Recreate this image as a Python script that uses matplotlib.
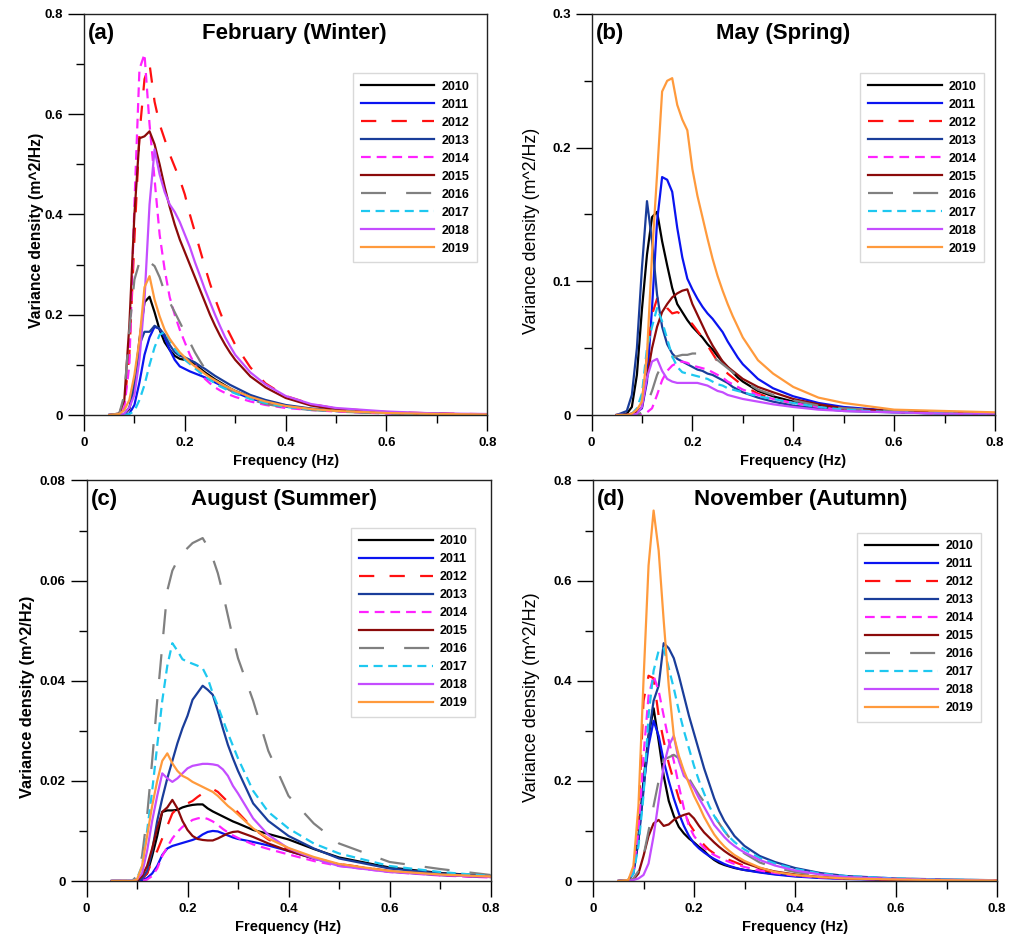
import matplotlib
matplotlib.use("Agg")
import matplotlib.pyplot as plt
from matplotlib.ticker import MultipleLocator, FuncFormatter

plt.rcParams['font.family'] = ['Liberation Sans', 'DejaVu Sans']
plt.rcParams['lines.scale_dashes'] = False

# ---------------- data ----------------
FREQ = [0.05, 0.07, 0.08, 0.09, 0.10, 0.11, 0.12, 0.13, 0.14, 0.15, 0.16, 0.17,
        0.18, 0.19, 0.20, 0.21, 0.22, 0.23, 0.24, 0.25, 0.26, 0.27, 0.28, 0.29,
        0.30, 0.33, 0.36, 0.40, 0.45, 0.50, 0.60, 0.70, 0.80]

YEARS = ['2010', '2011', '2012', '2013', '2014', '2015', '2016', '2017', '2018', '2019']

# February (Winter)
FEB = [
    [0, 0, 0.002, 0.012, 0.06, 0.15, 0.225, 0.236, 0.205, 0.17, 0.145, 0.13, 0.118, 0.112, 0.11, 0.108, 0.1, 0.093, 0.085, 0.078, 0.071, 0.065, 0.059, 0.053, 0.048, 0.036, 0.027, 0.018, 0.012, 0.008, 0.004, 0.002, 0.001],
    [0, 0, 0, 0.003, 0.02, 0.065, 0.12, 0.155, 0.176, 0.172, 0.155, 0.13, 0.11, 0.097, 0.092, 0.087, 0.083, 0.079, 0.075, 0.07, 0.065, 0.06, 0.055, 0.05, 0.045, 0.033, 0.025, 0.017, 0.011, 0.008, 0.004, 0.002, 0.001],
    [0, 0.001, 0.02, 0.12, 0.35, 0.56, 0.67, 0.70, 0.625, 0.58, 0.55, 0.52, 0.495, 0.47, 0.44, 0.40, 0.365, 0.33, 0.295, 0.262, 0.232, 0.205, 0.18, 0.16, 0.14, 0.095, 0.063, 0.038, 0.022, 0.013, 0.006, 0.003, 0.0015],
    [0, 0, 0.002, 0.015, 0.06, 0.14, 0.166, 0.166, 0.178, 0.172, 0.16, 0.14, 0.125, 0.118, 0.115, 0.11, 0.105, 0.098, 0.092, 0.085, 0.078, 0.072, 0.066, 0.06, 0.055, 0.04, 0.03, 0.02, 0.013, 0.009, 0.004, 0.002, 0.001],
    [0, 0.001, 0.015, 0.1, 0.42, 0.69, 0.72, 0.58, 0.47, 0.36, 0.29, 0.235, 0.2, 0.17, 0.145, 0.12, 0.1, 0.085, 0.072, 0.063, 0.055, 0.049, 0.044, 0.04, 0.036, 0.027, 0.02, 0.014, 0.01, 0.007, 0.003, 0.002, 0.001],
    [0, 0.003, 0.03, 0.18, 0.40, 0.552, 0.556, 0.566, 0.54, 0.50, 0.455, 0.415, 0.38, 0.35, 0.325, 0.30, 0.275, 0.25, 0.225, 0.20, 0.178, 0.158, 0.14, 0.124, 0.11, 0.077, 0.055, 0.034, 0.019, 0.011, 0.005, 0.0025, 0.001],
    [0, 0.003, 0.04, 0.17, 0.27, 0.305, 0.315, 0.305, 0.297, 0.275, 0.245, 0.225, 0.205, 0.185, 0.165, 0.145, 0.125, 0.108, 0.092, 0.08, 0.07, 0.062, 0.055, 0.049, 0.044, 0.031, 0.022, 0.015, 0.01, 0.007, 0.003, 0.002, 0.001],
    [0, 0, 0, 0.002, 0.008, 0.03, 0.06, 0.1, 0.135, 0.16, 0.166, 0.15, 0.132, 0.12, 0.11, 0.102, 0.093, 0.085, 0.077, 0.07, 0.063, 0.057, 0.052, 0.047, 0.043, 0.032, 0.024, 0.016, 0.011, 0.008, 0.004, 0.002, 0.001],
    [0, 0, 0.003, 0.015, 0.04, 0.11, 0.23, 0.42, 0.53, 0.48, 0.445, 0.42, 0.405, 0.385, 0.36, 0.335, 0.305, 0.278, 0.25, 0.225, 0.2, 0.177, 0.155, 0.137, 0.12, 0.085, 0.061, 0.038, 0.022, 0.014, 0.007, 0.003, 0.002],
    [0, 0.002, 0.01, 0.03, 0.08, 0.15, 0.255, 0.277, 0.23, 0.197, 0.17, 0.152, 0.138, 0.125, 0.115, 0.105, 0.097, 0.09, 0.082, 0.075, 0.069, 0.063, 0.058, 0.053, 0.048, 0.036, 0.027, 0.018, 0.012, 0.008, 0.004, 0.002, 0.001],
]

# May (Spring)
MAY = [
    [0, 0.001, 0.006, 0.03, 0.079, 0.12, 0.148, 0.152, 0.13, 0.112, 0.095, 0.083, 0.077, 0.071, 0.066, 0.062, 0.058, 0.053, 0.049, 0.044, 0.04, 0.036, 0.032, 0.028, 0.025, 0.018, 0.014, 0.01, 0.007, 0.005, 0.003, 0.002, 0.001],
    [0, 0, 0.001, 0.002, 0.005, 0.025, 0.08, 0.145, 0.178, 0.176, 0.167, 0.14, 0.118, 0.102, 0.094, 0.087, 0.081, 0.076, 0.072, 0.067, 0.062, 0.055, 0.049, 0.043, 0.038, 0.027, 0.02, 0.014, 0.009, 0.006, 0.003, 0.002, 0.001],
    [0, 0, 0.001, 0.003, 0.01, 0.045, 0.075, 0.087, 0.088, 0.08, 0.076, 0.077, 0.075, 0.072, 0.068, 0.063, 0.058, 0.052, 0.046, 0.04, 0.035, 0.031, 0.028, 0.025, 0.022, 0.016, 0.012, 0.009, 0.006, 0.004, 0.002, 0.0015, 0.001],
    [0, 0.003, 0.015, 0.05, 0.11, 0.16, 0.13, 0.09, 0.066, 0.053, 0.046, 0.042, 0.04, 0.038, 0.036, 0.034, 0.033, 0.031, 0.03, 0.028, 0.026, 0.024, 0.021, 0.019, 0.017, 0.013, 0.01, 0.007, 0.005, 0.003, 0.002, 0.001, 0.001],
    [0, 0, 0, 0, 0, 0.002, 0.005, 0.015, 0.026, 0.033, 0.037, 0.039, 0.04, 0.039, 0.037, 0.036, 0.035, 0.034, 0.032, 0.03, 0.028, 0.025, 0.023, 0.021, 0.019, 0.015, 0.012, 0.009, 0.006, 0.004, 0.002, 0.001, 0.001],
    [0, 0, 0.001, 0.002, 0.006, 0.028, 0.05, 0.066, 0.077, 0.083, 0.088, 0.091, 0.093, 0.094, 0.083, 0.075, 0.067, 0.059, 0.052, 0.046, 0.04, 0.036, 0.033, 0.03, 0.027, 0.021, 0.017, 0.012, 0.008, 0.005, 0.003, 0.002, 0.001],
    [0, 0, 0, 0, 0.002, 0.008, 0.018, 0.03, 0.038, 0.042, 0.043, 0.044, 0.045, 0.045, 0.046, 0.046, 0.046, 0.045, 0.043, 0.041, 0.038, 0.035, 0.032, 0.029, 0.026, 0.019, 0.015, 0.011, 0.007, 0.005, 0.003, 0.002, 0.001],
    [0, 0, 0.001, 0.005, 0.016, 0.05, 0.066, 0.08, 0.07, 0.057, 0.044, 0.036, 0.032, 0.031, 0.03, 0.029, 0.028, 0.027, 0.025, 0.023, 0.022, 0.02, 0.019, 0.018, 0.017, 0.014, 0.012, 0.009, 0.006, 0.004, 0.002, 0.001, 0.001],
    [0, 0, 0, 0.001, 0.006, 0.028, 0.04, 0.042, 0.033, 0.027, 0.025, 0.024, 0.024, 0.024, 0.024, 0.024, 0.023, 0.022, 0.02, 0.018, 0.017, 0.015, 0.014, 0.013, 0.012, 0.01, 0.008, 0.006, 0.004, 0.003, 0.002, 0.001, 0.001],
    [0, 0, 0.001, 0.004, 0.01, 0.045, 0.12, 0.18, 0.242, 0.25, 0.252, 0.232, 0.221, 0.213, 0.184, 0.164, 0.148, 0.132, 0.117, 0.104, 0.093, 0.083, 0.074, 0.066, 0.058, 0.041, 0.031, 0.021, 0.013, 0.009, 0.004, 0.003, 0.002],
]

# August (Summer)
AUG = [
    [0, 0, 0, 0, 0, 0.0005, 0.0015, 0.005, 0.009, 0.0138, 0.0141, 0.0141, 0.0142, 0.0147, 0.015, 0.0152, 0.0153, 0.0153, 0.0145, 0.0139, 0.0134, 0.0129, 0.0124, 0.0119, 0.0115, 0.0102, 0.0094, 0.0083, 0.0064, 0.0047, 0.0027, 0.0016, 0.001],
    [0, 0, 0, 0, 0, 0.0002, 0.0006, 0.0015, 0.003, 0.0052, 0.0065, 0.007, 0.0073, 0.0076, 0.0079, 0.0082, 0.0086, 0.0093, 0.0098, 0.01, 0.0099, 0.0095, 0.0091, 0.0087, 0.0084, 0.0078, 0.0071, 0.006, 0.0045, 0.0033, 0.0019, 0.0012, 0.0008],
    [0, 0, 0, 0, 0, 0.0005, 0.0015, 0.004, 0.006, 0.0085, 0.011, 0.0135, 0.0145, 0.015, 0.0155, 0.016, 0.0168, 0.0175, 0.018, 0.0184, 0.0178, 0.0168, 0.0158, 0.0147, 0.0137, 0.0105, 0.0083, 0.0063, 0.0046, 0.0034, 0.002, 0.0013, 0.0009],
    [0, 0, 0, 0, 0, 0.0005, 0.002, 0.006, 0.012, 0.0165, 0.0205, 0.024, 0.0275, 0.0305, 0.033, 0.0362, 0.0376, 0.039, 0.0382, 0.0372, 0.034, 0.0305, 0.0272, 0.0245, 0.022, 0.0155, 0.012, 0.009, 0.0065, 0.0045, 0.0025, 0.0015, 0.001],
    [0, 0, 0, 0, 0, 0, 0.0003, 0.001, 0.0025, 0.005, 0.0068, 0.0085, 0.0098, 0.0108, 0.0115, 0.0122, 0.0125, 0.0127, 0.0124, 0.0119, 0.0112, 0.0104, 0.0097, 0.0091, 0.0086, 0.0073, 0.0064, 0.0053, 0.004, 0.003, 0.0018, 0.0011, 0.0007],
    [0, 0, 0, 0, 0, 0.001, 0.003, 0.0065, 0.0105, 0.0138, 0.0147, 0.0162, 0.0145, 0.012, 0.0102, 0.009, 0.0084, 0.0082, 0.0081, 0.0081, 0.0085, 0.009, 0.0095, 0.0098, 0.0099, 0.0088, 0.0075, 0.006, 0.0045, 0.0033, 0.0019, 0.0012, 0.0008],
    [0, 0, 0, 0, 0.001, 0.005, 0.013, 0.024, 0.036, 0.047, 0.058, 0.062, 0.064, 0.0655, 0.0665, 0.0675, 0.068, 0.0685, 0.0668, 0.0645, 0.0615, 0.0575, 0.053, 0.0485, 0.0445, 0.036, 0.026, 0.017, 0.0115, 0.0075, 0.0038, 0.0024, 0.0012],
    [0, 0, 0, 0, 0.0005, 0.003, 0.01, 0.018, 0.027, 0.036, 0.043, 0.0475, 0.046, 0.0443, 0.0438, 0.0434, 0.043, 0.0425, 0.0405, 0.0375, 0.035, 0.0322, 0.0295, 0.027, 0.0245, 0.018, 0.0138, 0.0105, 0.0075, 0.0055, 0.003, 0.0018, 0.001],
    [0, 0, 0, 0, 0.0003, 0.0015, 0.006, 0.012, 0.017, 0.0215, 0.0205, 0.0198, 0.0205, 0.0215, 0.0225, 0.023, 0.0232, 0.0234, 0.0234, 0.0233, 0.0231, 0.0223, 0.021, 0.019, 0.0175, 0.0125, 0.0092, 0.0065, 0.0045, 0.003, 0.0018, 0.0012, 0.0008],
    [0, 0, 0, 0, 0.0003, 0.003, 0.009, 0.015, 0.02, 0.024, 0.0255, 0.0235, 0.022, 0.021, 0.0205, 0.0198, 0.0193, 0.0188, 0.0183, 0.0178, 0.017, 0.016, 0.015, 0.0142, 0.0133, 0.0105, 0.0085, 0.0066, 0.0048, 0.0034, 0.002, 0.0013, 0.0009],
]

# November (Autumn)
NOV = [
    [0, 0.002, 0.02, 0.09, 0.2, 0.29, 0.345, 0.28, 0.21, 0.16, 0.13, 0.108, 0.095, 0.085, 0.077, 0.068, 0.06, 0.05, 0.042, 0.036, 0.032, 0.029, 0.026, 0.024, 0.022, 0.018, 0.014, 0.01, 0.007, 0.005, 0.0025, 0.0015, 0.001],
    [0, 0.001, 0.015, 0.08, 0.19, 0.27, 0.32, 0.29, 0.24, 0.2, 0.165, 0.135, 0.11, 0.09, 0.075, 0.065, 0.057, 0.05, 0.044, 0.039, 0.034, 0.03, 0.027, 0.024, 0.022, 0.017, 0.013, 0.009, 0.006, 0.004, 0.002, 0.0012, 0.0008],
    [0, 0.001, 0.02, 0.12, 0.36, 0.41, 0.405, 0.33, 0.28, 0.235, 0.2, 0.165, 0.14, 0.115, 0.1, 0.085, 0.072, 0.062, 0.055, 0.05, 0.046, 0.042, 0.038, 0.034, 0.03, 0.023, 0.017, 0.012, 0.008, 0.005, 0.0025, 0.0015, 0.001],
    [0, 0.002, 0.02, 0.08, 0.18, 0.29, 0.36, 0.39, 0.475, 0.465, 0.445, 0.41, 0.37, 0.33, 0.295, 0.26, 0.225, 0.195, 0.165, 0.14, 0.12, 0.105, 0.09, 0.08, 0.07, 0.05, 0.038, 0.026, 0.016, 0.01, 0.005, 0.003, 0.0015],
    [0, 0.001, 0.02, 0.1, 0.25, 0.37, 0.41, 0.38, 0.33, 0.28, 0.24, 0.19, 0.145, 0.11, 0.09, 0.077, 0.066, 0.058, 0.052, 0.047, 0.042, 0.038, 0.034, 0.031, 0.028, 0.021, 0.016, 0.011, 0.007, 0.0045, 0.0025, 0.0015, 0.001],
    [0, 0, 0.003, 0.015, 0.05, 0.09, 0.115, 0.122, 0.11, 0.113, 0.122, 0.128, 0.132, 0.135, 0.125, 0.11, 0.097, 0.087, 0.077, 0.068, 0.06, 0.053, 0.047, 0.041, 0.036, 0.026, 0.019, 0.013, 0.008, 0.005, 0.0025, 0.0015, 0.001],
    [0, 0, 0.005, 0.02, 0.05, 0.1, 0.15, 0.2, 0.243, 0.247, 0.252, 0.245, 0.225, 0.205, 0.188, 0.172, 0.158, 0.143, 0.13, 0.115, 0.1, 0.087, 0.075, 0.064, 0.055, 0.037, 0.027, 0.018, 0.011, 0.007, 0.0035, 0.002, 0.001],
    [0, 0.001, 0.015, 0.07, 0.17, 0.33, 0.42, 0.46, 0.465, 0.425, 0.385, 0.34, 0.3, 0.265, 0.23, 0.2, 0.175, 0.15, 0.13, 0.115, 0.1, 0.088, 0.078, 0.07, 0.063, 0.046, 0.035, 0.024, 0.015, 0.01, 0.005, 0.0025, 0.0015],
    [0, 0, 0.002, 0.005, 0.012, 0.035, 0.09, 0.16, 0.23, 0.27, 0.29, 0.24, 0.21, 0.2, 0.185, 0.165, 0.148, 0.13, 0.112, 0.1, 0.088, 0.078, 0.07, 0.063, 0.057, 0.042, 0.031, 0.021, 0.013, 0.008, 0.004, 0.002, 0.001],
    [0, 0.002, 0.03, 0.15, 0.4, 0.63, 0.74, 0.66, 0.52, 0.39, 0.29, 0.25, 0.22, 0.195, 0.17, 0.15, 0.128, 0.11, 0.093, 0.08, 0.069, 0.06, 0.052, 0.046, 0.04, 0.027, 0.018, 0.012, 0.008, 0.005, 0.003, 0.0015, 0.001],
]

TITLES = ['February (Winter)', 'May (Spring)', 'August (Summer)', 'November (Autumn)']
TAGS = ['(a)', '(b)', '(c)', '(d)']
YMAX = [0.8, 0.3, 0.08, 0.8]
YMAJOR = [0.2, 0.1, 0.02, 0.2]

# ---------------- styles ----------------
COLORS = ['#000000', '#0a14f0', '#ff1010', '#1a3d9a', '#ff22ff',
          '#8b0a0a', '#808080', '#1ec8f0', '#c44dff', '#ff9a3c']
DASHES = ['-', '-', (0, (11, 11)), '-', (0, (7, 4.3)), '-',
          (0, (18, 14.5)), (0, (6.5, 4)), '-', '-']

W, H = 1010, 940
fig = plt.figure(figsize=(W / 100, H / 100), dpi=100)

# axes boxes in pixels: left, right, top, bottom
BOXES = [(84, 487.3, 14, 415), (591.5, 995, 14, 415),
         (86.5, 490.5, 480.5, 881), (593, 997, 480.5, 881)]
LEG_ANCHOR = [(0.9737, 0.852), (0.9727, 0.852), (0.9616, 0.882), (0.9597, 0.8697)]
TITLE_X = [0.521, 0.4746, 0.49, 0.514]
YLAB_X = [-0.099, -0.128, -0.128, -0.131]
YLAB_SIZE = [11.3, 12.8, 11.8, 13.0]
YLAB_WEIGHT = ['bold', 'normal', 'bold', 'normal']

DATA = [FEB, MAY, AUG, NOV]

fmt = FuncFormatter(lambda v, p: '%g' % round(v, 6))

for k in range(4):
    l, r, t, b = BOXES[k]
    ax = fig.add_axes([l / W, 1 - b / H, (r - l) / W, (b - t) / H])
    for i, yr in enumerate(YEARS):
        ax.plot(FREQ, DATA[k][i], color=COLORS[i], linestyle=DASHES[i],
                lw=1.6, label=yr)
    ax.set_xlim(0, 0.8)
    ax.set_ylim(0, YMAX[k])
    ax.xaxis.set_major_locator(MultipleLocator(0.2))
    ax.xaxis.set_minor_locator(MultipleLocator(0.1))
    ax.yaxis.set_major_locator(MultipleLocator(YMAJOR[k]))
    ax.yaxis.set_minor_locator(MultipleLocator(YMAJOR[k] / 2))
    ax.xaxis.set_major_formatter(fmt)
    ax.yaxis.set_major_formatter(fmt)
    ax.tick_params(which='major', direction='out', length=11.5, width=1.0,
                   labelsize=9.5, top=False, right=False)
    ax.tick_params(which='minor', direction='out', length=5.5, width=1.0,
                   top=False, right=False)
    ax.tick_params(axis='x', which='major', pad=4)
    ax.tick_params(axis='y', which='major', pad=3.5)
    for lab in ax.get_xticklabels() + ax.get_yticklabels():
        lab.set_fontweight('bold')
    for s in ax.spines.values():
        s.set_linewidth(1.0)
        s.set_color('#222222')
    ax.set_xlabel('Frequency (Hz)', fontsize=10.5, fontweight='bold', labelpad=4)
    ax.set_ylabel('Variance density (m^2/Hz)', fontsize=YLAB_SIZE[k],
                  fontweight=YLAB_WEIGHT[k])
    ax.yaxis.set_label_coords(YLAB_X[k], 0.46)
    ax.text(0.01, 0.9377, TAGS[k], transform=ax.transAxes, fontsize=16,
            fontweight='bold', ha='left', va='baseline')
    ax.text(TITLE_X[k], 0.9377, TITLES[k], transform=ax.transAxes, fontsize=16,
            fontweight='bold', ha='center', va='baseline')
    leg = ax.legend(loc='upper right', bbox_to_anchor=LEG_ANCHOR[k],
                    borderaxespad=0, fancybox=False, frameon=True,
                    prop={'weight': 'bold', 'size': 9},
                    handlelength=5.9, handletextpad=0.55, labelspacing=0.48,
                    borderpad=0.6)
    leg.get_frame().set_edgecolor('#d0d0d0')
    leg.get_frame().set_linewidth(1.0)

fig.savefig('out.png', dpi=100)
